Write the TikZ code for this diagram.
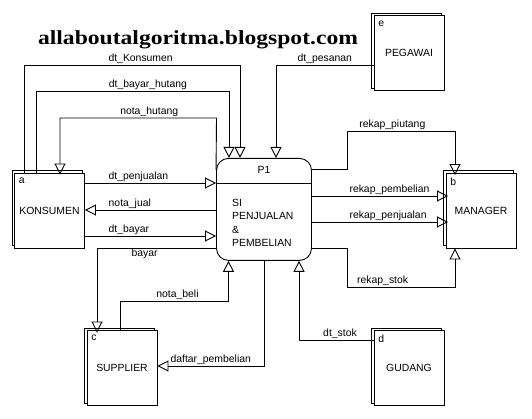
\documentclass[tikz,border=0pt]{standalone}
\usepackage{fontspec}
\setmainfont{Liberation Sans}
\newfontfamily\judulfont{Liberation Serif}
\usetikzlibrary{arrows.meta,shadows}
\newcommand{\lblfont}{\fontsize{10.4}{12}\selectfont}

\begin{document}
\begin{tikzpicture}[x=1pt,y=-1pt,
	entity/.style={draw, fill=white, line width=0.9pt, minimum width=70pt, minimum height=75pt, inner sep=0pt, font=\lblfont,
		copy shadow={shadow xshift=-2.5pt, shadow yshift=2.5pt, draw=black, fill=white, line width=0.9pt}},
	tag/.style={anchor=north west, inner sep=0pt, font=\lblfont},
	proses/.style={draw, line width=0.9pt, rounded corners=12pt, minimum width=95pt, minimum height=102pt, inner sep=0pt},
	flow/.style={line width=0.9pt, -{Triangle[open, length=11pt, width=11pt]}},
	lbl/.style={font=\lblfont, inner sep=1pt}]
	\useasboundingbox (0,0) rectangle (532,419);
	% Title
	\node[anchor=base, font=\judulfont\fontsize{20}{24}\selectfont\bfseries] (judul) at (198,45) {\scalebox{1.18}[1]{allaboutalgoritma.blogspot.com}};
	% Process P1
	\node[proses] (proc) at (264,209.4) {};
	\draw[line width=0.9pt] (proc.west |- 0,183) -- (proc.east |- 0,183);
	\node[lbl] (pnum) at (264,170) {P1};
	\node[lbl, anchor=west, align=left, font=\fontsize{10.4}{13.3}\selectfont] (pname) at (231,223) {SI\\PENJUALAN\\\&\\PEMBELIAN};
	% External entities
	\node[entity] (kons) at (49.5,210.5) {KONSUMEN};
	\node[entity] (mgr) at (481,210.5) {MANAGER};
	\node[entity] (pgw) at (409,53.3) {PEGAWAI};
	\node[entity] (supp) at (122,368) {SUPPLIER};
	\node[entity] (gdg) at (409,368) {GUDANG};
	\node[tag] at ([xshift=4.5pt,yshift=-5pt]kons.north west) {a};
	\node[tag] at ([xshift=4.5pt,yshift=-5pt]mgr.north west) {b};
	\node[tag] at ([xshift=4.5pt,yshift=-5pt]supp.north west) {c};
	\node[tag] at ([xshift=4.5pt,yshift=-5pt]gdg.north west) {d};
	\node[tag] at ([xshift=4.5pt,yshift=-5pt]pgw.north west) {e};
	% Flows above the process
	\draw[flow] (24,0 |- kons.north) -- (24,65) -- node[lbl, above, pos=0.54] {dt\_Konsumen} (240,65) -- (240,0 |- proc.north);
	\draw[flow] (36,0 |- kons.north) -- (36,91) -- node[lbl, above, pos=0.58] {dt\_bayar\_hutang} (229,91) -- (229,0 |- proc.north);
	\draw[flow, shorten >=-2pt] ([yshift=-12pt]proc.north west) -- (216.5,118) -- node[lbl, above, pos=0.43] {nota\_hutang} (60,118) -- (60,0 |- kons.north);
	\draw[flow] (pgw.west |- 0,65) -- node[lbl, above, pos=0.5] {dt\_pesanan} (276,65) -- (276,0 |- proc.north);
	% Flows between KONSUMEN and the process
	\draw[flow] (kons.east |- 0,183) -- node[lbl, above right, pos=0.17] {dt\_penjualan} (proc.west |- 0,183);
	\draw[flow] (proc.west |- 0,210) -- node[lbl, above right, pos=0.83] {nota\_jual} (kons.east |- 0,210);
	\draw[flow] (kons.east |- 0,236) -- node[lbl, above right, pos=0.17] {dt\_bayar} (proc.west |- 0,236);
	% Flows to MANAGER
	\draw[flow, shorten >=-2.5pt] (proc.east |- 0,169) -- (347,169) -- (347,131) -- node[lbl, above, pos=0.42] {rekap\_piutang} (455,131) -- (455,0 |- mgr.north);
	\draw[flow, shorten >=-2.5pt] (proc.east |- 0,196) -- node[lbl, above, pos=0.58] {rekap\_pembelian} (mgr.west |- 0,196);
	\draw[flow, shorten >=-2.5pt] (proc.east |- 0,222) -- node[lbl, above, pos=0.57] {rekap\_penjualan} (mgr.west |- 0,222);
	\draw[flow] (proc.east |- 0,248) -- (347,248) -- (347,287) -- node[lbl, above, pos=0.33] {rekap\_stok} (455,287) -- (455,0 |- mgr.south);
	% Flows with SUPPLIER and GUDANG
	\draw[flow, shorten >=-2.5pt] (proc.west |- 0,248) -- node[lbl, below, pos=0.6] {bayar} (97,248) -- (97,0 |- supp.north);
	\draw[flow] (120,0 |- supp.north) -- (120,301) -- node[lbl, above, pos=0.53] {nota\_beli} (228.5,301) -- (228.5,0 |- proc.south);
	\draw[flow] (264,0 |- proc.south) -- (264,366) -- node[lbl, above, pos=0.5] {daftar\_pembelian} (supp.east |- 0,366);
	\draw[flow] (gdg.west |- 0,340) -- node[lbl, above, pos=0.45] {dt\_stok} (299,340) -- (299,0 |- proc.south);
\end{tikzpicture}
\end{document}
